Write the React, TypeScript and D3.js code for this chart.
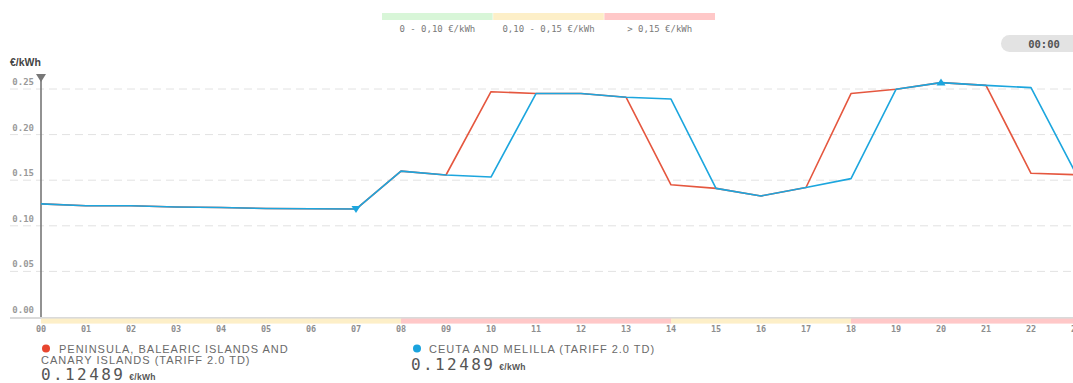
import React from "react";
import * as d3 from "d3";

const hours = d3.range(0, 24);
const hourLabels = ["00","01","02","03","04","05","06","07","08","09","10","11","12","13","14","15","16","17","18","19","20","21","22","23"];
const peninsula = [0.124, 0.122, 0.122, 0.1206, 0.120, 0.119, 0.1187, 0.1184, 0.160, 0.1557, 0.247, 0.245, 0.245, 0.241, 0.145, 0.141, 0.1327, 0.142, 0.245, 0.2497, 0.257, 0.254, 0.1576, 0.156];
const ceuta = [0.124, 0.122, 0.122, 0.1206, 0.120, 0.119, 0.1187, 0.1184, 0.160, 0.1557, 0.1535, 0.245, 0.245, 0.241, 0.239, 0.141, 0.1327, 0.142, 0.1517, 0.2497, 0.257, 0.254, 0.2515, 0.157];
const yTicks = [0, 0.05, 0.1, 0.15, 0.2, 0.25];
const rangeLabels = ["0 - 0,10 €/kWh", "0,10 - 0,15 €/kWh", "> 0,15 €/kWh"];
const rangeColors = ["#d8f6d8", "#fdefc8", "#ffc8c8"];
const rangeThresholds = [0.1, 0.15];
const seriesNames = ["PENINSULA, BALEARIC ISLANDS AND", "CANARY ISLANDS (TARIFF 2.0 TD)"];
const seriesName2 = "CEUTA AND MELILLA (TARIFF 2.0 TD)";
const currentValue = "0.12489";
const timeLabel = "00:00";

const RED = "#e5573f";
const BLUE = "#1ca6de";
const MONO = "'DejaVu Sans Mono', monospace";
const SANS = "'Liberation Sans', Arial, sans-serif";

export default function App() {
  const W = 1073, H = 383;
  const x = d3.scaleLinear().domain([0, 23]).range([41, 41 + 23 * 45]);
  const y = d3.scaleLinear().domain([0, 0.25]).range([317, 89]);
  const line = d3.line<number>().x((_, i) => x(i)).y((d) => y(d));
  const colorOf = d3.scaleThreshold<number, string>().domain(rangeThresholds).range(rangeColors);

  const minI = d3.minIndex(ceuta);
  const maxI = d3.maxIndex(ceuta);

  const legendX = d3.scaleBand<number>().domain([0, 1, 2]).range([382, 715]).paddingInner(0.005);

  return (
    <svg width={W} height={H} style={{ position: "absolute", left: 0, top: 0, background: "#fff" }}>
      {/* top range legend */}
      {rangeLabels.map((lab, i) => (
        <g key={lab}>
          <rect x={legendX(i)} y={13} width={legendX.bandwidth()} height={7} fill={rangeColors[i]} />
          <text x={(legendX(i) as number) + legendX.bandwidth() / 2} y={32} textAnchor="middle"
            fontFamily={MONO} fontSize={9} fill="#7a7a7a">{lab}</text>
        </g>
      ))}

      {/* time badge */}
      <rect x={1001} y={35} width={90} height={17} rx={8.5} fill="#e3e3e3" />
      <text x={1044} y={47.5} textAnchor="middle" fontFamily={MONO} fontSize={10.5} fontWeight="bold" fill="#555">{timeLabel}</text>

      {/* y title */}
      <text x={10} y={66} fontFamily={SANS} fontSize={10.5} fontWeight="bold" fill="#444">€/kWh</text>

      {/* grid */}
      {yTicks.map((t) => (
        <g key={t}>
          {t > 0 && (
            <line x1={10} x2={W} y1={y(t)} y2={y(t)} stroke="#e2e2e2" strokeWidth={1} strokeDasharray="8,5" />
          )}
          <text x={34} y={y(t) - 4} textAnchor="end" fontFamily={MONO} fontSize={9} fontWeight="bold" fill="#9a9a9a">
            {t.toFixed(2)}
          </text>
        </g>
      ))}

      {/* bottom axis line */}
      <line x1={10} x2={W} y1={y(0) + 1} y2={y(0) + 1} stroke="#b5b5b5" strokeWidth={1.2} />
      {/* color band */}
      {hours.map((h) => (
        <rect key={h} x={x(h)} y={y(0) + 1.6} width={x(1) - x(0) + 0.5} height={5} fill={colorOf(peninsula[h])} />
      ))}
      {/* x tick labels */}
      {hours.map((h) => (
        <text key={h} x={x(h)} y={332} textAnchor="middle" fontFamily={MONO} fontSize={8.5} fontWeight="bold" fill="#8e8e8e">
          {hourLabels[h]}
        </text>
      ))}

      {/* cursor */}
      <line x1={x(0)} x2={x(0)} y1={78} y2={y(0)} stroke="#777" strokeWidth={1.6} />
      <path d={`M${x(0) - 5},74 L${x(0) + 5},74 L${x(0)},82 Z`} fill="#777" />

      {/* series */}
      <path d={line(peninsula) || ""} fill="none" stroke={RED} strokeWidth={1.6} strokeLinejoin="round" />
      <path d={line(ceuta) || ""} fill="none" stroke={BLUE} strokeWidth={1.6} strokeLinejoin="round" />

      {/* min/max markers */}
      <path d={`M${x(minI) - 4.5},${y(ceuta[minI]) - 3} L${x(minI) + 4.5},${y(ceuta[minI]) - 3} L${x(minI)},${y(ceuta[minI]) + 4} Z`} fill={BLUE} />
      <path d={`M${x(maxI) - 4.5},${y(ceuta[maxI]) + 3} L${x(maxI) + 4.5},${y(ceuta[maxI]) + 3} L${x(maxI)},${y(ceuta[maxI]) - 4} Z`} fill={BLUE} />

      {/* bottom legend */}
      <circle cx={46} cy={348.5} r={4} fill="#e8462f" />
      <text x={59} y={352.5} fontFamily={SANS} fontSize={11} letterSpacing={1} fill="#6a6a6a">{seriesNames[0]}</text>
      <text x={41} y={364} fontFamily={SANS} fontSize={11} letterSpacing={1} fill="#6a6a6a">{seriesNames[1]}</text>
      <text x={41} y={380} fontFamily={MONO} fontSize={16} letterSpacing={2.4} fill="#555">
        {currentValue}
        <tspan fontFamily={SANS} fontSize={8.5} fontWeight="bold" letterSpacing={0.3} dx={4}>€/kWh</tspan>
      </text>

      <circle cx={417} cy={348.5} r={4} fill="#1aa3dd" />
      <text x={429} y={352.5} fontFamily={SANS} fontSize={11} letterSpacing={1} fill="#6a6a6a">{seriesName2}</text>
      <text x={411} y={370} fontFamily={MONO} fontSize={16} letterSpacing={2.4} fill="#555">
        {currentValue}
        <tspan fontFamily={SANS} fontSize={8.5} fontWeight="bold" letterSpacing={0.3} dx={4}>€/kWh</tspan>
      </text>
    </svg>
  );
}
